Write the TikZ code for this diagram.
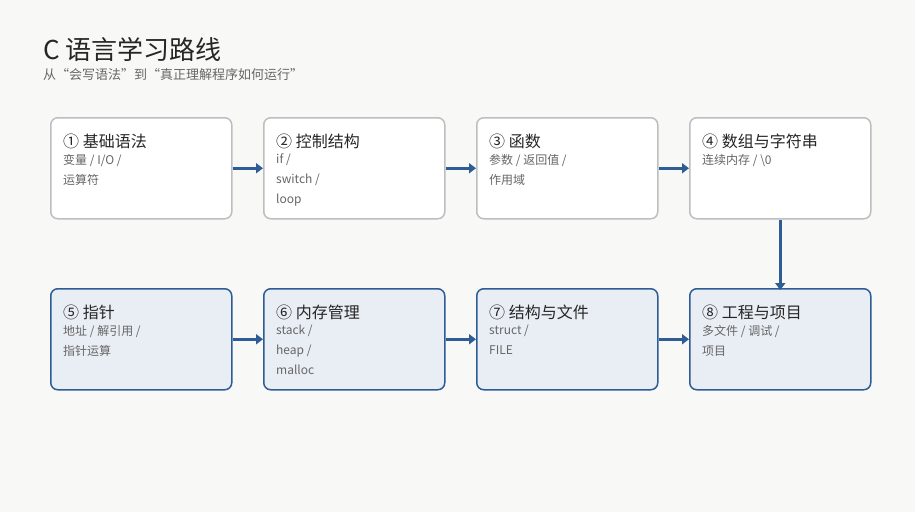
\documentclass[tikz,border=0pt]{standalone}
\usepackage{fontspec}
\setmainfont{Noto Sans CJK SC}
\usetikzlibrary{arrows.meta}
\definecolor{bg}{HTML}{F8F8F6}
\definecolor{gbord}{HTML}{BDBEC0}
\definecolor{bbord}{HTML}{2E5C95}
\definecolor{bfill}{HTML}{E9EEF5}
\definecolor{sub}{HTML}{666666}
\tikzset{
 box/.style={draw=gbord,fill=white,line width=1.5pt,rounded corners=7pt,minimum width=181pt,minimum height=101pt,anchor=north west},
 bbox/.style={box,draw=bbord,fill=bfill},
 ttl/.style={anchor=west,font=\fontsize{16}{18}\selectfont,text=black!85},
 sb/.style={anchor=north west,font=\fontsize{12}{20}\selectfont,text=sub,align=left},
 arr/.style={draw=bbord,line width=2.5pt,-{Triangle[length=7pt,width=10pt]}}
}
\begin{document}
\begin{tikzpicture}[x=1pt,y=-1pt]
\fill[bg] (0,0) rectangle (915,512);
\useasboundingbox (0,0) rectangle (915,512);
\node[anchor=west,inner sep=0,font=\fontsize{26}{28}\selectfont,text=black!85] (t) at (43,49) {C 语言学习路线};
\node[anchor=west,inner sep=0,font=\fontsize{13}{15}\selectfont,text=sub] (st) at (43,75) {从“会写语法”到“真正理解程序如何运行”};
\foreach \n/\x/\y/\s/\t/\sbt in {
 1/50/117/box/{① 基础语法}/{变量 / I/O /\\运算符},
 2/263/117/box/{② 控制结构}/{if /\\switch /\\loop},
 3/476/117/box/{③ 函数}/{参数 / 返回值 /\\作用域},
 4/689/117/box/{④ 数组与字符串}/{连续内存 / \textbackslash 0},
 5/50/288/bbox/{⑤ 指针}/{地址 / 解引用 /\\指针运算},
 6/263/288/bbox/{⑥ 内存管理}/{stack /\\heap /\\malloc},
 7/476/288/bbox/{⑦ 结构与文件}/{struct /\\FILE},
 8/689/288/bbox/{⑧ 工程与项目}/{多文件 / 调试 /\\项目}}{
 \node[\s] (b\n) at (\x,\y) {};
 \node[ttl,inner sep=0] (h\n) at (\x+13,\y+24) {\t};
 \node[sb,inner sep=0] (s\n) at (\x+13,\y+37) {\sbt};
}
\draw[arr] (b1.east) -- (b2.west);
\draw[arr] (b2.east) -- (b3.west);
\draw[arr] (b3.east) -- (b4.west);
\draw[arr] (b4.south) -- ([yshift=-2pt]b8.north);
\draw[arr] (b5.east) -- (b6.west);
\draw[arr] (b6.east) -- (b7.west);
\draw[arr] (b7.east) -- (b8.west);
\end{tikzpicture}
\end{document}
